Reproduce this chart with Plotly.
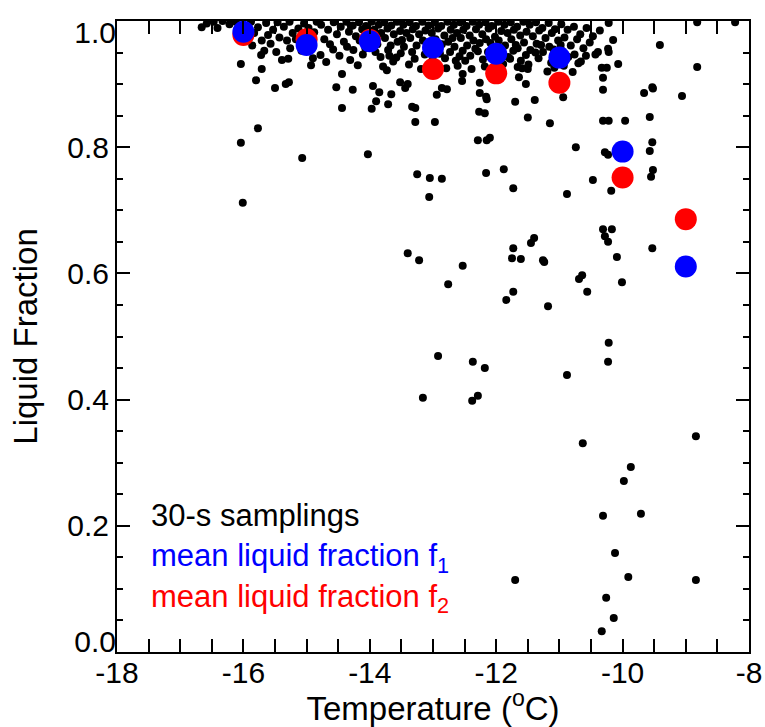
import plotly.graph_objects as go

# ---------------- data ----------------
# 30-s samplings: dense band near liquid fraction ~1 (temperature, liquid fraction)
band_samples = [
    (-16.58, 0.996), (-16.47, 0.999), (-16.41, 0.989), (-16.33, 1.000), (-16.22, 0.995),
    (-16.12, 0.999), (-16.08, 0.974), (-15.97, 0.992), (-15.88, 0.999), (-15.83, 0.981),
    (-15.86, 0.961), (-15.77, 0.990), (-15.71, 0.969), (-15.64, 0.997), (-15.61, 0.978),
    (-15.67, 0.953), (-15.53, 0.986), (-15.57, 0.964), (-15.46, 0.998), (-15.43, 0.974),
    (-15.48, 0.951), (-15.36, 0.991), (-15.31, 0.969), (-15.27, 0.999), (-15.22, 0.981),
    (-15.26, 0.957), (-15.13, 0.988), (-15.17, 0.971), (-15.04, 0.996), (-15.08, 0.953),
    (-14.97, 0.989), (-14.93, 0.976), (-14.99, 0.961), (-14.84, 0.999), (-14.88, 0.982),
    (-14.77, 0.994), (-14.72, 0.971), (-14.78, 0.946), (-14.66, 0.986), (-14.63, 0.963),
    (-14.57, 0.998), (-14.52, 0.979), (-14.58, 0.955), (-14.46, 0.991), (-14.41, 0.967),
    (-14.37, 0.999), (-14.33, 0.983), (-14.36, 0.959), (-14.31, 0.938), (-14.27, 0.993),
    (-14.22, 0.976), (-14.26, 0.954), (-14.17, 0.998), (-14.12, 0.987), (-14.16, 0.969),
    (-14.11, 0.947), (-14.06, 0.992), (-14.02, 0.977), (-14.07, 0.957), (-13.97, 0.999),
    (-13.93, 0.986), (-13.98, 0.971), (-13.91, 0.951), (-13.86, 0.994), (-13.82, 0.981),
    (-13.88, 0.963), (-13.83, 0.943), (-13.77, 0.998), (-13.72, 0.988), (-13.76, 0.973),
    (-13.71, 0.954), (-13.66, 0.993), (-13.62, 0.979), (-13.67, 0.961), (-13.63, 0.936),
    (-13.57, 0.999), (-13.52, 0.984), (-13.56, 0.967), (-13.51, 0.949), (-13.47, 0.994),
    (-13.42, 0.981), (-13.46, 0.959), (-13.37, 0.998), (-13.32, 0.987), (-13.36, 0.973),
    (-13.33, 0.951), (-13.38, 0.931), (-13.27, 0.992), (-13.22, 0.979), (-13.26, 0.961),
    (-13.17, 0.999), (-13.12, 0.985), (-13.16, 0.969), (-13.13, 0.947), (-13.07, 0.993),
    (-13.02, 0.981), (-13.06, 0.957), (-13.01, 0.937), (-12.97, 0.998), (-12.92, 0.988),
    (-12.96, 0.971), (-12.93, 0.954), (-12.87, 0.992), (-12.82, 0.977), (-12.86, 0.963),
    (-12.81, 0.941), (-12.77, 0.999), (-12.72, 0.986), (-12.76, 0.967), (-12.73, 0.951),
    (-12.67, 0.994), (-12.62, 0.981), (-12.66, 0.959), (-12.61, 0.929), (-12.57, 0.998),
    (-12.52, 0.986), (-12.56, 0.973), (-12.53, 0.953), (-12.47, 0.992), (-12.42, 0.977),
    (-12.46, 0.961), (-12.41, 0.945), (-12.37, 0.999), (-12.32, 0.987), (-12.36, 0.969),
    (-12.33, 0.956), (-12.27, 0.994), (-12.22, 0.979), (-12.26, 0.965), (-12.21, 0.939),
    (-12.17, 0.998), (-12.12, 0.988), (-12.16, 0.971), (-12.13, 0.951), (-12.07, 0.992),
    (-12.02, 0.975), (-12.06, 0.957), (-12.01, 0.934), (-11.97, 0.999), (-11.92, 0.984),
    (-11.96, 0.969), (-11.93, 0.947), (-11.87, 0.994), (-11.82, 0.981), (-11.86, 0.961),
    (-11.81, 0.943), (-11.77, 0.998), (-11.72, 0.986), (-11.76, 0.971), (-11.73, 0.953),
    (-11.67, 0.991), (-11.62, 0.977), (-11.66, 0.957), (-11.61, 0.937), (-11.57, 0.999),
    (-11.52, 0.983), (-11.56, 0.966), (-11.53, 0.946), (-11.47, 0.994), (-11.42, 0.976),
    (-11.46, 0.954), (-11.37, 0.998), (-11.32, 0.985), (-11.36, 0.964), (-11.33, 0.941),
    (-11.27, 0.989), (-11.22, 0.973), (-11.26, 0.951), (-11.17, 0.997), (-11.12, 0.981),
    (-11.16, 0.959), (-11.13, 0.934), (-11.07, 0.987), (-11.02, 0.969), (-11.06, 0.944),
    (-10.97, 0.995), (-10.92, 0.974), (-10.96, 0.953), (-10.93, 0.929), (-10.87, 0.986),
    (-10.82, 0.961), (-10.86, 0.943), (-10.77, 0.991), (-10.72, 0.971), (-10.76, 0.947),
    (-10.67, 0.979), (-10.62, 0.957), (-10.66, 0.936), (-10.57, 0.989), (-10.52, 0.966),
    (-10.47, 0.976), (-10.43, 0.947), (-10.36, 0.985), (-10.22, 0.997),
    # second layer filling the densest part of the band
    (-14.30, 0.992), (-14.09, 0.968), (-13.89, 0.975), (-13.69, 0.945), (-13.49, 0.970),
    (-13.29, 0.940), (-13.09, 0.966), (-12.89, 0.948), (-12.69, 0.973), (-12.49, 0.937),
    (-12.29, 0.952), (-12.09, 0.965), (-11.89, 0.932), (-11.69, 0.962), (-11.49, 0.931),
    (-11.29, 0.962), (-11.09, 0.955), (-10.89, 0.940), (-10.70, 0.933), (-13.79, 0.928),
    (-13.19, 0.924), (-12.79, 0.925), (-12.39, 0.924), (-11.99, 0.921), (-11.59, 0.925),
    (-11.19, 0.920), (-10.79, 0.919), (-14.19, 0.930), (-15.39, 0.938), (-14.69, 0.935),
    (-14.48, 0.945), (-13.58, 0.942), (-12.98, 0.935), (-12.58, 0.944), (-12.18, 0.928),
    (-11.78, 0.940), (-11.38, 0.950), (-10.98, 0.962), (-10.58, 0.945), (-11.08, 0.926),
]

# 30-s samplings: scattered points away from the band
scatter_samples = [
    (-16.66, 0.990), (-16.04, 0.932), (-16.04, 0.807), (-16.01, 0.712), (-15.77, 0.830),
    (-15.71, 0.924), (-15.80, 0.906), (-15.50, 0.894), (-15.33, 0.900), (-15.28, 0.903),
    (-15.72, 0.946), (-15.29, 0.940), (-14.93, 0.930), (-14.90, 0.941), (-15.07, 0.783),
    (-14.44, 0.916), (-14.53, 0.895), (-14.27, 0.891), (-14.44, 0.862), (-14.03, 0.789),
    (-13.97, 0.861), (-13.90, 0.873), (-13.95, 0.897), (-13.85, 0.887), (-13.66, 0.884),
    (-13.71, 0.868), (-13.73, 0.922), (-13.52, 0.903), (-13.40, 0.900), (-13.44, 0.894),
    (-13.33, 0.864), (-13.28, 0.862), (-13.28, 0.840), (-12.97, 0.840), (-12.94, 0.883),
    (-12.86, 0.894), (-12.78, 0.892), (-12.64, 0.937), (-12.54, 0.905), (-12.53, 0.916),
    (-12.26, 0.902), (-12.26, 0.886), (-12.16, 0.880), (-12.15, 0.876), (-12.27, 0.856),
    (-12.18, 0.854), (-12.29, 0.811), (-12.15, 0.811), (-12.10, 0.815), (-12.16, 0.759),
    (-11.88, 0.765), (-11.73, 0.735), (-11.50, 0.847), (-11.39, 0.875), (-11.70, 0.872),
    (-11.53, 0.900), (-11.64, 0.911), (-11.50, 0.924), (-11.66, 0.927), (-11.15, 0.838),
    (-10.94, 0.879), (-10.74, 0.800), (-10.88, 0.726), (-10.47, 0.748), (-10.18, 0.731),
    (-10.28, 0.792), (-10.23, 0.788), (-10.31, 0.842), (-10.22, 0.842), (-9.96, 0.842),
    (-10.31, 0.891), (-10.31, 0.910), (-10.33, 0.926), (-10.25, 0.926), (-10.07, 0.932),
    (-10.39, 0.951), (-10.23, 0.956), (-10.22, 0.951), (-10.15, 0.970), (-9.41, 0.962),
    (-8.82, 0.927), (-9.06, 0.881), (-9.66, 0.886), (-9.53, 0.895), (-9.52, 0.893),
    (-9.57, 0.848), (-9.53, 0.808), (-9.57, 0.794), (-9.52, 0.764), (-9.55, 0.753),
    (-8.82, 0.998), (-8.22, 0.998), (-13.25, 0.757), (-13.05, 0.751), (-12.86, 0.750),
    (-13.06, 0.721), (-13.40, 0.632), (-13.22, 0.621), (-12.53, 0.612), (-12.76, 0.583),
    (-11.73, 0.640), (-11.75, 0.624), (-11.61, 0.623), (-11.45, 0.648), (-11.40, 0.656),
    (-11.26, 0.621), (-11.24, 0.618), (-11.73, 0.571), (-11.84, 0.558), (-11.18, 0.548),
    (-10.69, 0.591), (-10.64, 0.597), (-10.56, 0.571), (-10.31, 0.670), (-10.17, 0.670),
    (-10.28, 0.659), (-10.23, 0.650), (-10.09, 0.626), (-10.01, 0.586), (-9.53, 0.640),
    (-12.92, 0.469), (-12.37, 0.460), (-12.18, 0.450), (-12.29, 0.406), (-12.38, 0.398),
    (-13.16, 0.403), (-10.88, 0.439), (-10.22, 0.490), (-10.23, 0.460), (-8.84, 0.342),
    (-10.63, 0.331), (-9.87, 0.293), (-9.98, 0.271), (-10.31, 0.216), (-9.71, 0.219),
    (-10.12, 0.157), (-9.91, 0.119), (-11.70, 0.114), (-8.84, 0.114), (-10.26, 0.086),
    (-10.14, 0.054), (-10.33, 0.033),
]

# binned means
mean_T = [-16, -15, -14, -13, -12, -11, -10, -9]
mean_f1 = [0.983, 0.962, 0.968, 0.958, 0.948, 0.942, 0.793, 0.611]
mean_f2 = [0.978, 0.971, 0.970, 0.924, 0.917, 0.902, 0.752, 0.686]

x_tick_vals = [-18, -16, -14, -12, -10, -8]
x_tick_labels = ["-18", "-16", "-14", "-12", "-10", "-8"]
y_tick_vals = [0.2, 0.4, 0.6, 0.8]
y_tick_labels = ["0.2", "0.4", "0.6", "0.8"]
y_bottom_val, y_bottom_label = 0.0, "0.0"
y_top_val, y_top_label = 1.0, "1.0"

# ---------------- figure ----------------
samples = band_samples + scatter_samples
sample_T = [p[0] for p in samples]
sample_f = [p[1] for p in samples]

FONT = "Liberation Sans, Arial, sans-serif"
TICKFONT = dict(family=FONT, size=30, color="black")

fig = go.Figure()
fig.add_trace(go.Scatter(x=sample_T, y=sample_f, mode="markers",
                         marker=dict(size=8, color="black", line=dict(width=0)),
                         name="30-s samplings", showlegend=False))
fig.add_trace(go.Scatter(x=mean_T, y=mean_f2, mode="markers",
                         marker=dict(size=22, color="#ff0000", line=dict(width=0)),
                         name="f2", showlegend=False))
fig.add_trace(go.Scatter(x=mean_T, y=mean_f1, mode="markers",
                         marker=dict(size=22, color="#0000ff", line=dict(width=0)),
                         name="f1", showlegend=False))
# empty traces so the overlaid label-only axes are drawn
fig.add_trace(go.Scatter(x=[None], y=[None], yaxis="y2", mode="markers",
                         showlegend=False, hoverinfo="skip"))
fig.add_trace(go.Scatter(x=[None], y=[None], yaxis="y3", mode="markers",
                         showlegend=False, hoverinfo="skip"))

axis_common = dict(showline=True, linewidth=2, linecolor="black", mirror="allticks",
                   ticks="inside", ticklen=13, tickwidth=2, tickcolor="black",
                   showgrid=False, zeroline=False, automargin=False,
                   tickfont=TICKFONT)

fig.update_xaxes(range=[-18, -8], tickvals=x_tick_vals, ticktext=x_tick_labels,
                 ticklabelstandoff=-7,
                 minor=dict(dtick=0.5, tick0=-18, ticks="inside", ticklen=6,
                            tickwidth=2, tickcolor="black", showgrid=False),
                 title=dict(text="Temperature (<sup>o</sup>C)",
                            font=dict(family=FONT, size=33, color="black"), standoff=2),
                 **axis_common)
fig.update_layout(yaxis=dict(
    range=[0, 1], tickvals=[0.0] + y_tick_vals + [1.0],
    ticktext=[""] + y_tick_labels + [""],
    minor=dict(dtick=0.05, tick0=0, ticks="inside", ticklen=6,
               tickwidth=2, tickcolor="black", showgrid=False),
    title=dict(text="Liquid Fraction",
               font=dict(family=FONT, size=33, color="black"), standoff=20),
    **axis_common))

# end labels of the y axis sit inside the frame (above 0.0 / below 1.0)
end_axis = dict(overlaying="y", anchor="x", side="left", range=[0, 1],
                showline=False, showgrid=False, zeroline=False, ticks="",
                automargin=False, tickfont=TICKFONT)
fig.update_layout(
    yaxis2=dict(tickvals=[y_bottom_val], ticktext=[y_bottom_label],
                ticklabelposition="outside top", ticklabelshift=10, **end_axis),
    yaxis3=dict(tickvals=[y_top_val], ticktext=[y_top_label],
                ticklabelposition="outside bottom", ticklabelshift=-10, **end_axis),
)

fig.add_annotation(
    xref="paper", yref="paper", x=0.05, y=0.248, xanchor="left", yanchor="top",
    align="left", showarrow=False,
    font=dict(family=FONT, size=31, color="black"),
    text=("30-s samplings<br>"
          "<span style='color:#0000ff'>mean liquid fraction f<sub>1</sub></span><br>"
          "<span style='color:#ff0000'>mean liquid fraction f<sub>2</sub></span>"))

fig.update_layout(width=765, height=727, plot_bgcolor="white", paper_bgcolor="white",
                  margin=dict(l=117, r=16, t=21, b=75), showlegend=False)

fig.write_html("out.html")
